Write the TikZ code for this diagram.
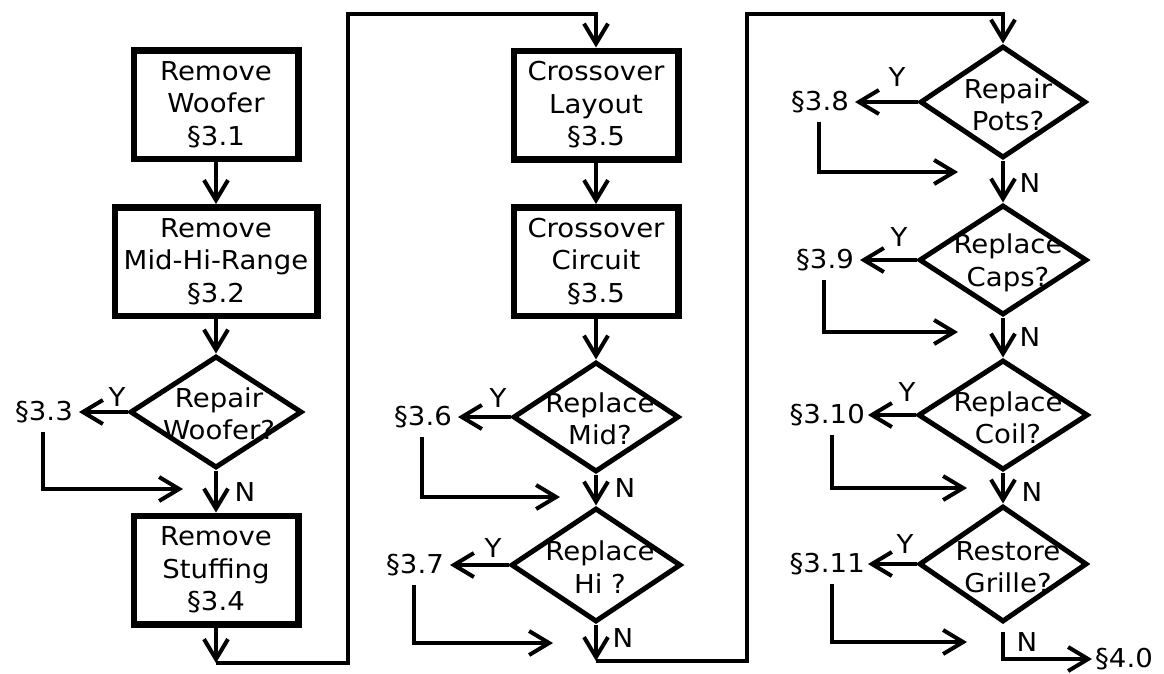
\documentclass[tikz,border=0pt]{standalone}
\usepackage{fontspec}
\setmainfont{DejaVu Sans}[FakeStretch=1.06]
\usetikzlibrary{arrows.meta,shapes.geometric}
\begin{document}
\begin{tikzpicture}[x=1pt,y=-1pt,
  every node/.style={font=\fontsize{26pt}{32.5pt}\selectfont},
  box/.style={draw,line width=6.5pt,minimum width=164.5pt,minimum height=108.5pt,align=center,inner sep=0pt},
  dia/.style={draw,diamond,line width=5pt,inner sep=0pt},
  dtext/.style={align=center,inner sep=0pt},
  lbl/.style={inner sep=0pt},
  sec/.style={inner xsep=6pt,inner ysep=0pt,minimum height=40pt,anchor=east},
  arr/.style={line width=4pt,-{Straight Barb[length=20pt,width=24pt]}},
]
\useasboundingbox (0,0) rectangle (1164,673);

% ---- first column: woofer and stuffing ----
\node[box] (b1) at (216,104.5) {Remove\\Woofer\\§3.1};
\node[box,minimum width=202.5pt] (b2) at (216,261.5) {Remove\\Mid-Hi-Range\\§3.2};
\node[dia,minimum width=172pt,minimum height=112pt] (d1) at (216,412) {};
\node[dtext] at ([shift={(3,2)}]d1.center) {Repair\\Woofer?};
\node[sec] (s33) at (79,412) {§3.3};
\node[lbl] at (117,397) {Y};
\node[lbl] at (245,492) {N};
\node[box] (b3) at (216,570) {Remove\\Stuffing\\§3.4};
\coordinate (r1) at (183,489);
\coordinate (c1) at (216,663);
\coordinate (j1) at (348,14);

% ---- second column: crossover, mid and hi drivers ----
\node[box] (b4) at (596,105) {Crossover\\Layout\\§3.5};
\node[box] (b5) at (596,261.5) {Crossover\\Circuit\\§3.5};
\node[dia,minimum width=166pt,minimum height=110pt] (d2) at (596,417) {};
\node[dtext] at ([shift={(4,2)}]d2.center) {Replace\\Mid?};
\node[sec] (s36) at (458,417) {§3.6};
\node[lbl] at (498,398) {Y};
\node[lbl] at (625,488) {N};
\coordinate (r2) at (560,497);
\node[dia,minimum width=170pt,minimum height=114pt] (d3) at (596,565) {};
\node[dtext] at ([shift={(4,2)}]d3.center) {Replace\\Hi ?};
\node[sec] (s37) at (450,565) {§3.7};
\node[lbl] at (493,548) {Y};
\node[lbl] at (623,638) {N};
\coordinate (r3) at (553,643);
\coordinate (c2) at (596,661);
\coordinate (j2) at (747,14);

% ---- third column: pots, caps, coil, grille ----
\node[dia,minimum width=166pt,minimum height=112pt] (d4) at (1003,102) {};
\node[dtext] at ([shift={(5,3)}]d4.center) {Repair\\Pots?};
\node[sec] (s38) at (855,102) {§3.8};
\node[lbl] at (897,77) {Y};
\node[lbl] at (1030,183) {N};
\coordinate (r4) at (958,172);

\node[dia,minimum width=168pt,minimum height=110pt] (d5) at (1003,260) {};
\node[dtext] at ([shift={(5,3)}]d5.center) {Replace\\Caps?};
\node[sec] (s39) at (860,260) {§3.9};
\node[lbl] at (899,237) {Y};
\node[lbl] at (1030,337) {N};
\coordinate (r5) at (958,332);

\node[dia,minimum width=170pt,minimum height=110pt] (d6) at (1003,415) {};
\node[dtext] at ([shift={(5,3)}]d6.center) {Replace\\Coil?};
\node[sec,inner xsep=3pt] (s310) at (868,415) {§3.10};
\node[lbl] at (907,392) {Y};
\node[lbl] at (1032,492) {N};
\coordinate (r6) at (967,488);

\node[dia,minimum width=168pt,minimum height=116pt] (d7) at (1003,564) {};
\node[dtext] at ([shift={(5,3)}]d7.center) {Restore\\Grille?};
\node[sec,inner xsep=3pt] (s311) at (868,564) {§3.11};
\node[lbl] at (905,544) {Y};
\node[lbl] at (1027,642) {N};
\coordinate (r7) at (967,642);
\coordinate (e1) at (1003,632);
\node[sec,anchor=west,inner xsep=3pt] (s40) at (1092,659) {§4.0};

% ---- connectors ----
\draw[arr] (b1) -- (b2);
\draw[arr] (b2) -- (d1);
\draw[arr] (d1.west) -- (s33.east);
\draw[arr] ([xshift=-36pt]s33.south east) |- (r1);
\draw[arr] (d1) -- (b3);
\draw[arr] (b3) -- (c1);
\draw[arr] (c1) -| (j1) -| (b4.north);

\draw[arr] (b4) -- (b5);
\draw[arr] (b5) -- (d2);
\draw[arr] (d2.west) -- (s36.east);
\draw[arr] ([xshift=-36pt]s36.south east) |- (r2);
\draw[arr] (d2) -- (d3);
\draw[arr] (d3.west) -- (s37.east);
\draw[arr] ([xshift=-36pt]s37.south east) |- (r3);
\draw[arr] (d3) -- (c2);
\draw[arr] (c2) -| (j2) -| (d4.north);

\draw[arr] (d4.west) -- (s38.east);
\draw[arr] ([xshift=-36pt]s38.south east) |- (r4);
\draw[arr] (d4) -- (d5);
\draw[arr] (d5.west) -- (s39.east);
\draw[arr] ([xshift=-36pt]s39.south east) |- (r5);
\draw[arr] (d5) -- (d6);
\draw[arr] (d6.west) -- (s310.east);
\draw[arr] ([xshift=-36pt]s310.south east) |- (r6);
\draw[arr] (d6) -- (d7);
\draw[arr] (d7.west) -- (s311.east);
\draw[arr] ([xshift=-36pt]s311.south east) |- (r7);
\draw[arr] (e1) |- (s40.west);
\end{tikzpicture}
\end{document}
